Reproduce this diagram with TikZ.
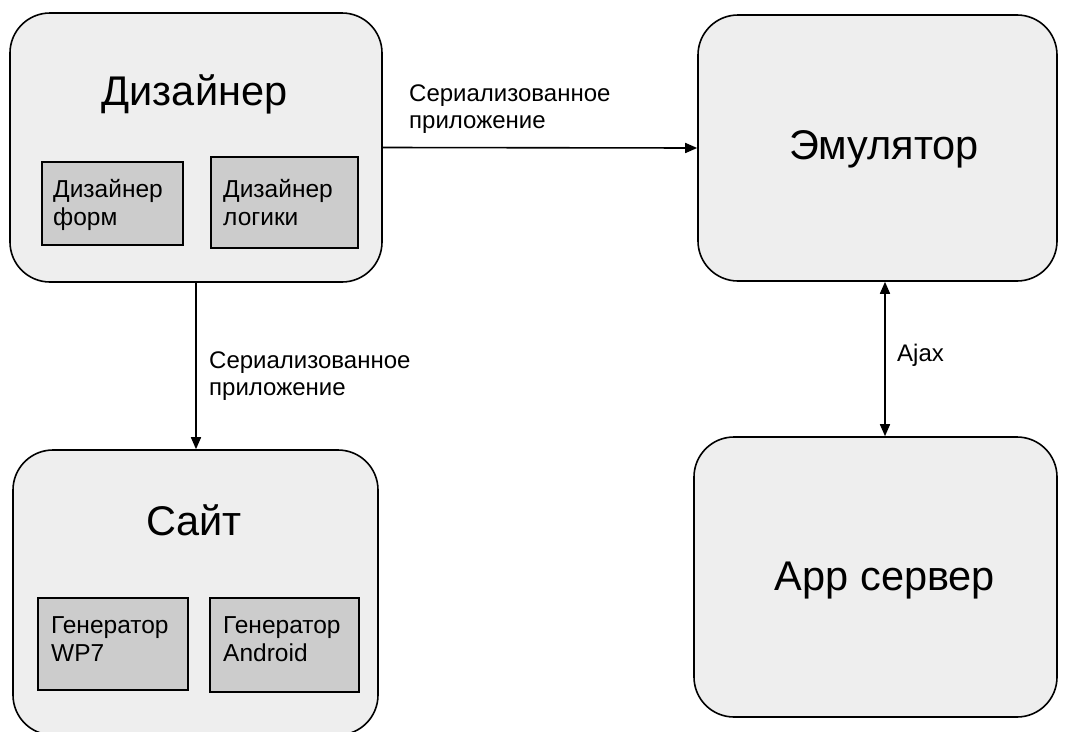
\documentclass[tikz,border=0pt]{standalone}
\usepackage{fontspec}
\setmainfont{Liberation Sans}
\usetikzlibrary{arrows.meta}
\newcommand{\firstline}{\rule{0pt}{20pt}}
\begin{document}
\begin{tikzpicture}[x=1pt,y=-1pt,
  outerbox/.style={draw=black,line width=1.6pt,fill=outerfill,rounded corners=40pt,
    minimum width=#1,inner sep=0pt},
  innerbox/.style={draw=black,line width=1.6pt,fill=innerfill,inner sep=0pt},
  title/.style={font=\fontsize{41.5}{48}\selectfont,inner sep=0pt,anchor=base},
  boxtext/.style={font=\fontsize{24.5}{28}\selectfont,align=left,anchor=north west,inner sep=0pt},
  linklabel/.style={font=\fontsize{24}{27}\selectfont,align=left,anchor=north west,inner sep=0pt},
  link/.style={line width=1.6pt,-{Triangle[length=12pt,width=10pt]}},
  link2/.style={line width=1.6pt,{Triangle[length=12pt,width=10pt]}-{Triangle[length=12pt,width=10pt]}}]
\definecolor{outerfill}{HTML}{EEEEEE}
\definecolor{innerfill}{HTML}{CCCCCC}
\useasboundingbox[fill=white] (0,0) rectangle (1068,731);
\begin{scope}
\clip (0,0) rectangle (1068,731);
% main blocks
\node[outerbox=372pt,minimum height=269pt] (des) at (196,147.5) {};
\node[outerbox=359pt,minimum height=266pt] (emu) at (877.5,148) {};
\node[outerbox=363pt,minimum height=280pt] (app) at (875.5,577) {};
\node[outerbox=365pt,minimum height=285pt] (site) at (195.5,592.5) {};
% sub-blocks
\node[innerbox,minimum width=141pt,minimum height=83pt] (form) at (112.5,203.5) {};
\node[innerbox,minimum width=147pt,minimum height=91pt] (logic) at (284.5,202.5) {};
\node[innerbox,minimum width=150pt,minimum height=92pt] (wp7) at (113,644) {};
\node[innerbox,minimum width=149pt,minimum height=94pt] (andr) at (284.5,645) {};
\end{scope}
% titles (placed on their baselines)
\node[title] (desT) at (194.5,105) {Дизайнер};
\node[title] (emuT) at (884,159) {Эмулятор};
\node[title] (siteT) at (194,535) {Сайт};
\node[title] (appT) at (885,590) {App сервер};
% sub-block texts (first baseline 20pt below the anchor)
\node[boxtext] (formT) at (53,177) {\firstline Дизайнер\\форм};
\node[boxtext] (logicT) at (223,177) {\firstline Дизайнер\\логики};
\node[boxtext] (wp7T) at (51,613) {\firstline Генератор\\WP7};
\node[boxtext] (andrT) at (223,613) {\firstline Генератор\\Android};
% connectors
\coordinate (ax) at (885,0);
\draw[link] (des.east) -- (emu.west);
\draw[link] (des.south) -- (des.south |- site.north);
\draw[link2] (ax |- emu.south) -- (ax |- app.north);
% connector labels
\node[linklabel] (l1) at (409,81) {\firstline Сериализованное\\приложение};
\node[linklabel] (l2) at (209,348) {\firstline Сериализованное\\приложение};
\node[linklabel] (l3) at (897,341) {\firstline Ajax};
\end{tikzpicture}
\end{document}
